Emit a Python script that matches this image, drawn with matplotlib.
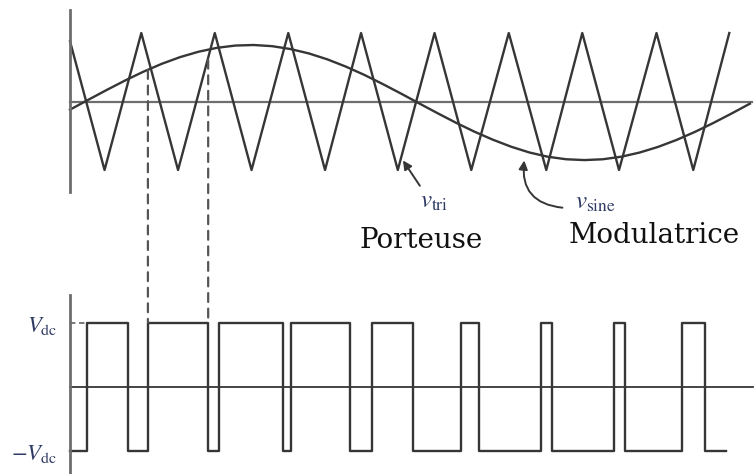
import matplotlib.pyplot as plt
from matplotlib.patches import ConnectionPatch

plt.rcParams['mathtext.fontset'] = 'stix'

# carrier (triangle) vertices, time in carrier periods
tri_t = [0, 0.47, 0.97, 1.47, 1.97, 2.47, 2.97, 3.47, 3.96, 4.46,
         4.96, 5.46, 5.97, 6.48, 6.97, 7.47, 7.98, 8.48, 8.97]
tri_v = [0.88, -1, 1, -1, 1, -1, 1, -1, 1, -1,
         1, -1, 1, -1, 1, -1, 1, -1, 1]

# modulating sine
sine_t = [0, 0.25, 0.5, 0.75, 1.0, 1.25, 1.5, 1.75, 2.0, 2.25, 2.5, 2.75,
          3.0, 3.25, 3.5, 3.75, 4.0, 4.25, 4.5, 4.75, 5.0, 5.25, 5.5, 5.75,
          6.0, 6.25, 6.5, 6.75, 7.0, 7.25, 7.5, 7.75, 8.0, 8.25, 8.5, 8.75,
          9.0, 9.25]
sine_v = [-0.119, 0.026, 0.169, 0.307, 0.436, 0.551, 0.649, 0.727, 0.784,
          0.817, 0.825, 0.808, 0.766, 0.702, 0.616, 0.511, 0.391, 0.258,
          0.118, -0.027, -0.170, -0.309, -0.439, -0.556, -0.659, -0.744,
          -0.806, -0.843, -0.855, -0.843, -0.806, -0.745, -0.663, -0.562,
          -0.445, -0.315, -0.176, -0.032]

# PWM output: switching instants and levels (in units of Vdc)
pwm_t = [0, 0.23, 0.79, 1.06, 1.88, 2.03, 2.90, 3.01, 3.81, 4.11, 4.67,
         5.32, 5.56, 6.41, 6.56, 7.40, 7.55, 8.33, 8.64, 8.93]
pwm_v = [-1, 1, -1, 1, -1, 1, -1, 1, -1, 1, -1,
         1, -1, 1, -1, 1, -1, 1, -1, -1]

# dashed guides: time, start level on the sine
guide_t = [1.06, 1.88]
guide_v = [0.46, 0.61]

ytick_labels = [r'$V_{\mathrm{dc}}$', r'$-V_{\mathrm{dc}}$']

W, H = 755, 474
fig = plt.figure(figsize=(W / 100, H / 100), dpi=100)

line_c = '#363636'
axis_c = '#6e6e6e'
label_c = '#2e3a63'

ax1 = fig.add_axes([70 / W, (H - 192) / H, 680 / W, 182 / H])
ax2 = fig.add_axes([70 / W, 0, 680 / W, 179 / H])

ax1.set_xlim(0, 9.252)
ax1.set_ylim(-1.321, 1.336)
ax2.set_xlim(0, 9.252)
ax2.set_ylim(-1.367, 1.43)

for ax in (ax1, ax2):
    for s in ['top', 'right', 'bottom']:
        ax.spines[s].set_visible(False)
    ax.spines['left'].set_color(axis_c)
    ax.spines['left'].set_linewidth(2)
    ax.set_xticks([])
    ax.patch.set_alpha(0)

ax1.set_yticks([])

# horizontal axes
ax1.plot([0, 9.28], [0, 0], color=axis_c, lw=1.6, clip_on=False)
ax2.plot([0, 9.29], [0, 0], color=line_c, lw=1.3, clip_on=False)

ax1.plot(tri_t, tri_v, color=line_c, lw=1.7, clip_on=False)
ax1.plot(sine_t, sine_v, color=line_c, lw=1.7, clip_on=False)

ax2.plot(pwm_t, pwm_v, drawstyle='steps-post', color=line_c, lw=1.7,
         clip_on=False)
ax2.plot([0, pwm_t[1]], [1, 1], color=axis_c, lw=1.3, ls=(0, (3, 2)))

ax2.set_yticks([1, -1])
ax2.set_yticklabels(ytick_labels, fontsize=16.5, color=label_c)
ax2.tick_params(axis='y', length=0, pad=9)

for t, v in zip(guide_t, guide_v):
    con = ConnectionPatch(xyA=(t, v), coordsA=ax1.transData,
                          xyB=(t, 1), coordsB=ax2.transData,
                          color='#555555', lw=1.6, ls=(0, (4, 3)))
    fig.add_artist(con)

# annotations
ax1.annotate('', xy=(4.53, -0.86), xytext=(4.76, -1.23),
             arrowprops=dict(arrowstyle='-|>', color=line_c, lw=1.4,
                             mutation_scale=13, shrinkA=0, shrinkB=0),
             annotation_clip=False)
ax1.text(4.96, -1.45, r'$v_{\mathrm{tri}}$', fontsize=18, color=label_c,
         ha='center', va='center', clip_on=False)

ax1.annotate('', xy=(6.18, -0.86), xytext=(6.70, -1.55),
             arrowprops=dict(arrowstyle='-|>', color=line_c, lw=1.4,
                             mutation_scale=13, shrinkA=0, shrinkB=0,
                             connectionstyle='arc3,rad=-0.5'),
             annotation_clip=False)
ax1.text(7.15, -1.46, r'$v_{\mathrm{sine}}$', fontsize=18, color=label_c,
         ha='center', va='center', clip_on=False)

fig.text(421 / W, 1 - 248 / H, 'Porteuse', fontsize=20,
         family='DejaVu Serif', ha='center', va='baseline', color='#111111')
fig.text(654 / W, 1 - 243 / H, 'Modulatrice', fontsize=20,
         family='DejaVu Serif', ha='center', va='baseline', color='#111111')

fig.savefig('out.png', dpi=100)
